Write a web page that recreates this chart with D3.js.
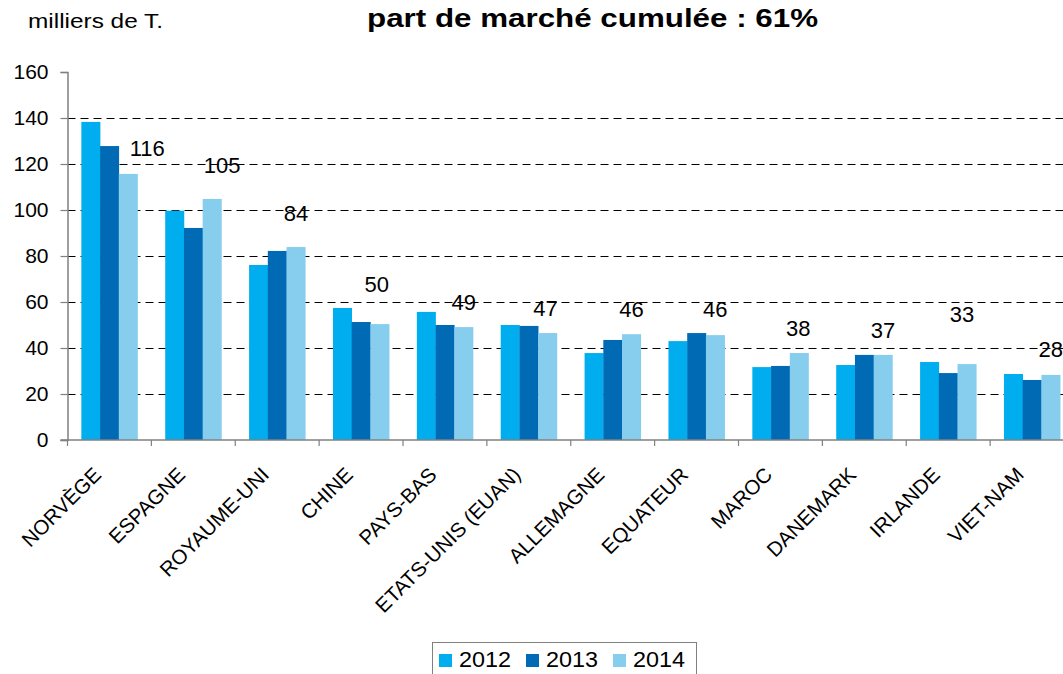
<!DOCTYPE html>
<html>
<head>
<meta charset="utf-8">
<script src="https://cdn.jsdelivr.net/npm/d3@7"></script>
<style>
  body { margin: 0; background: #fff; }
  svg { display: block; font-family: "Liberation Sans", Arial, sans-serif; }
</style>
</head>
<body>
<div id="graph"></div>
<script>
const countries = ["NORVÈGE", "ESPAGNE", "ROYAUME-UNI", "CHINE", "PAYS-BAS", "ETATS-UNIS (EUAN)",
  "ALLEMAGNE", "EQUATEUR", "MAROC", "DANEMARK", "IRLANDE", "VIET-NAM"];
const years = ["2012", "2013", "2014"];
const v2012 = [138.3, 99.7, 76.1, 57.4, 55.7, 50.0, 37.8, 43.0, 31.7, 32.6, 33.9, 28.7];
const v2013 = [127.8, 92.2, 82.2, 51.3, 50.0, 49.6, 43.5, 46.5, 32.2, 37.0, 29.1, 26.1];
const v2014 = [115.7, 104.8, 83.9, 50.4, 49.1, 46.5, 46.0, 45.6, 37.8, 37.0, 33.0, 28.3];
// labels shown above each group (2014 values, rounded)
const labels2014 = [116, 105, 84, 50, 49, 47, 46, 46, 38, 37, 33, 28];
// where the label sits, in axis units
const labelAt = [127, 119.6, 98.7, 68, 60, 57.4, 57, 57, 48.7, 47.8, 54.8, 39.6];
const yTicks = [0, 20, 40, 60, 80, 100, 120, 140, 160];

const width = 1063, height = 674;
const plotLeft = 67.5, plotRight = 1074, plotTop = 72, plotBottom = 440;
const colors = { "2012": "#00AEEF", "2013": "#006AB4", "2014": "#87CEEE" };
const labelDx = [19, 10, 0, -3, 0, -2, 0, 0, -1, 0, -5, 0];

const series = { "2012": v2012, "2013": v2013, "2014": v2014 };
const rows = countries.map((c, i) => ({ country: c, i: i, values: years.map(yr => ({ year: yr, v: series[yr][i] })) }));

const svg = d3.select("#graph")
  .append("svg")
  .attr("width", width)
  .attr("height", height);

const x0 = d3.scaleBand()
  .domain(countries)
  .range([plotLeft, plotRight])
  .paddingInner(0.33)
  .paddingOuter(0.165);

const x1 = d3.scaleBand()
  .domain(years)
  .range([0, x0.bandwidth()]);

const y = d3.scaleLinear()
  .domain([0, 160])
  .range([plotBottom, plotTop]);

// dashed grid lines
svg.append("g")
  .selectAll("line")
  .data(yTicks.filter(t => t > 0 && t < 160))
  .enter()
  .append("line")
    .attr("x1", plotLeft)
    .attr("x2", width)
    .attr("y1", d => Math.round(y(d)) + 0.5)
    .attr("y2", d => Math.round(y(d)) + 0.5)
    .attr("stroke", "#000")
    .attr("stroke-width", 1)
    .attr("stroke-dasharray", "8,5");

// bars
const groups = svg.append("g")
  .selectAll("g")
  .data(rows)
  .enter()
  .append("g")
    .attr("transform", d => "translate(" + x0(d.country) + ",0)");

groups.selectAll("rect")
  .data(d => d.values)
  .enter()
  .append("rect")
    .attr("x", d => x1(d.year))
    .attr("width", x1.bandwidth() + 0.3)
    .attr("y", d => y(d.v))
    .attr("height", d => plotBottom - y(d.v))
    .attr("fill", d => colors[d.year]);

// y axis
const yAxis = svg.append("g")
  .attr("transform", "translate(" + plotLeft + ",0)")
  .call(d3.axisLeft(y).tickValues(yTicks).tickSize(7).tickPadding(12));
yAxis.select(".domain").attr("stroke", "#808080").attr("stroke-width", 1.5);
yAxis.selectAll(".tick line").attr("stroke", "#808080").attr("stroke-width", 1.2);
yAxis.selectAll(".tick text")
  .attr("font-size", 21)
  .attr("fill", "#000")
  .style("font-family", "'Liberation Sans', Arial, sans-serif");

// x axis with ticks between categories
const boundaries = countries.map(c => x0(c) - x0.step() * x0.paddingInner() / 2).concat([plotRight]);
svg.append("line")
  .attr("x1", plotLeft - 7)
  .attr("x2", width)
  .attr("y1", plotBottom)
  .attr("y2", plotBottom)
  .attr("stroke", "#808080")
  .attr("stroke-width", 1.5);
svg.append("g")
  .selectAll("line")
  .data(boundaries)
  .enter()
  .append("line")
    .attr("x1", d => d)
    .attr("x2", d => d)
    .attr("y1", plotBottom)
    .attr("y2", plotBottom + 6)
    .attr("stroke", "#808080")
    .attr("stroke-width", 1.2);

// rotated category labels
svg.append("g")
  .selectAll("text")
  .data(countries)
  .enter()
  .append("text")
    .attr("transform", d => "translate(" + (x0(d) + x0.bandwidth() / 2 - 7) + "," + (plotBottom + 36) + ") rotate(-45)")
    .attr("text-anchor", "end")
    .attr("font-size", 20.5)
    .attr("fill", "#000")
    .text(d => d);

// value labels
svg.append("g")
  .selectAll("text")
  .data(rows)
  .enter()
  .append("text")
    .attr("x", d => x0(d.country) + x1("2014") + x1.bandwidth() / 2 + labelDx[d.i])
    .attr("y", d => y(labelAt[d.i]))
    .attr("dy", "0.36em")
    .attr("text-anchor", "middle")
    .attr("font-size", 22)
    .attr("fill", "#000")
    .text(d => labels2014[d.i]);

// titles
svg.append("text")
  .attr("x", 28)
  .attr("y", 28)
  .attr("font-size", 20)
  .attr("textLength", 135)
  .attr("lengthAdjust", "spacingAndGlyphs")
  .text("milliers de T.");

svg.append("text")
  .attr("x", 367)
  .attr("y", 27)
  .attr("font-size", 25)
  .attr("font-weight", "bold")
  .attr("textLength", 451)
  .attr("lengthAdjust", "spacingAndGlyphs")
  .text("part de marché cumulée : 61%");

// legend
const legend = svg.append("g");
legend.append("rect")
  .attr("x", 432.5)
  .attr("y", 642.5)
  .attr("width", 264)
  .attr("height", 50)
  .attr("fill", "none")
  .attr("stroke", "#808080")
  .attr("stroke-width", 1);

const items = legend.selectAll("g")
  .data(years)
  .enter()
  .append("g")
    .attr("transform", (d, i) => "translate(" + (439 + i * 87) + ",654)");
items.append("rect")
  .attr("width", 13)
  .attr("height", 13)
  .attr("fill", d => colors[d]);
items.append("text")
  .attr("x", 20)
  .attr("y", 13)
  .attr("font-size", 22)
  .attr("textLength", 52)
  .attr("lengthAdjust", "spacingAndGlyphs")
  .text(d => d);
</script>
</body>
</html>
